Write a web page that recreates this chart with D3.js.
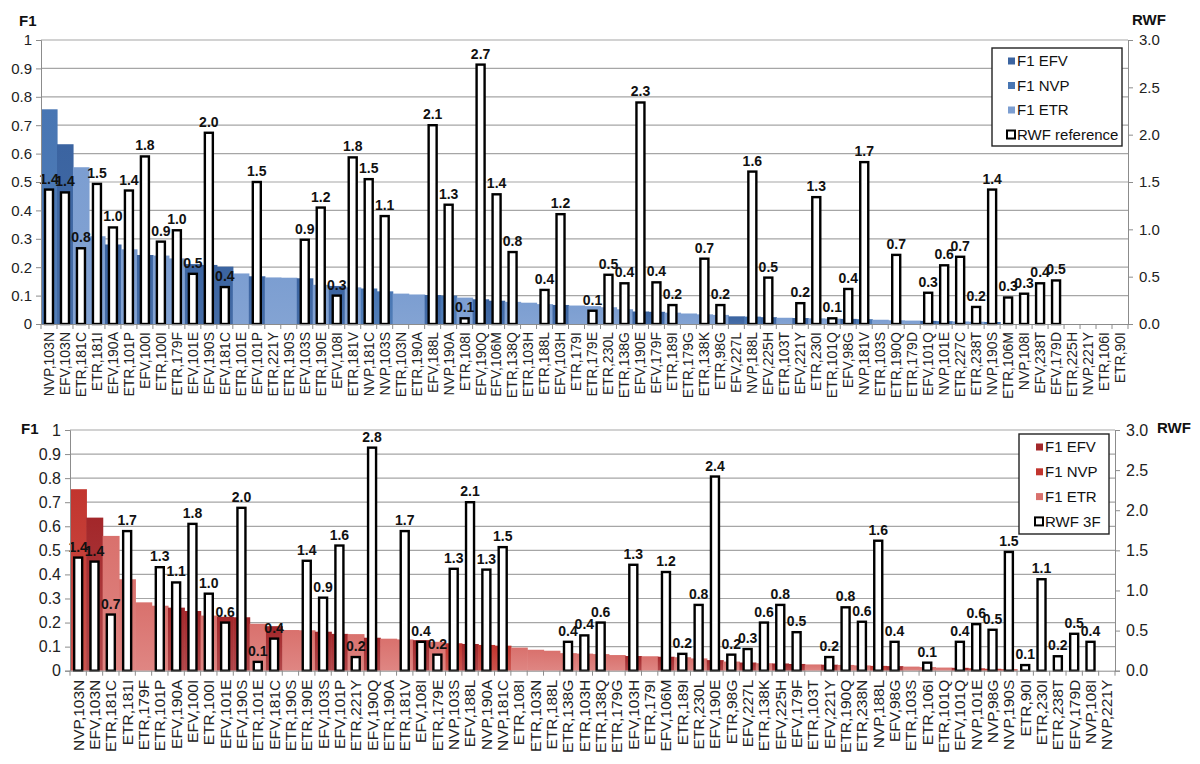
<!DOCTYPE html>
<html><head><meta charset="utf-8">
<script src="https://cdnjs.cloudflare.com/ajax/libs/d3/7.8.5/d3.min.js"></script>
<style>body{margin:0;background:#fff;}svg{display:block;font-family:"Liberation Sans",Arial,sans-serif;}</style>
</head><body>
<svg id="chart" width="1200" height="764"></svg>
<script>
// ---------- DATA ----------
const topCategories = ["NVP,103N","EFV,103N","ETR,181C","ETR,181I","EFV,190A","ETR,101P","EFV,100I","ETR,100I","ETR,179F","EFV,101E","EFV,190S","EFV,181C","ETR,101E","EFV,101P","ETR,221Y","ETR,190S","EFV,103S","ETR,190E","EFV,108I","ETR,181V","NVP,181C","NVP,103S","ETR,103N","ETR,190A","EFV,188L","NVP,190A","ETR,108I","EFV,190Q","EFV,106M","ETR,138Q","ETR,103H","ETR,188L","EFV,103H","ETR,179I","ETR,179E","ETR,230L","ETR,138G","EFV,190E","EFV,179F","ETR,189I","ETR,179G","ETR,138K","ETR,98G","EFV,227L","NVP,188L","EFV,225H","ETR,103T","EFV,221Y","ETR,230I","ETR,101Q","EFV,98G","NVP,181V","ETR,103S","ETR,190Q","ETR,179D","EFV,101Q","NVP,101E","ETR,227C","ETR,238T","NVP,190S","ETR,106M","NVP,108I","EFV,238T","EFV,179D","ETR,225H","NVP,221Y","ETR,106I","ETR,90I"];
const topF1 = [0.756,0.633,0.552,0.309,0.280,0.263,0.243,0.241,0.231,0.211,0.208,0.202,0.178,0.168,0.164,0.163,0.161,0.138,0.134,0.129,0.125,0.115,0.107,0.104,0.102,0.100,0.093,0.087,0.082,0.078,0.075,0.070,0.067,0.065,0.063,0.059,0.052,0.044,0.043,0.040,0.037,0.034,0.032,0.027,0.026,0.024,0.022,0.021,0.020,0.019,0.018,0.017,0.015,0.013,0.012,0.011,0.010,0.009,0.008,0.007,0,0,0,0,0,0,0,0];
const topRWF = [1.42,1.39,0.80,1.48,1.02,1.41,1.77,0.87,0.99,0.53,2.02,0.39,null,1.50,null,null,0.89,1.23,0.30,1.76,1.53,1.14,null,null,2.10,1.26,0.06,2.74,1.37,0.76,null,0.36,1.16,null,0.14,0.52,0.43,2.34,0.44,0.20,null,0.69,0.20,null,1.61,0.49,null,0.22,1.34,0.06,0.37,1.71,null,0.73,null,0.33,0.62,0.71,0.18,1.42,0.28,0.32,0.43,0.46,null,null,null,null];

const bottomCategories = ["NVP,103N","EFV,103N","ETR,181C","ETR,181I","ETR,179F","ETR,101P","EFV,190A","EFV,100I","ETR,100I","EFV,101E","EFV,190S","ETR,101E","EFV,181C","ETR,190S","ETR,190E","EFV,103S","EFV,101P","ETR,221Y","EFV,190Q","ETR,190A","ETR,181V","EFV,108I","ETR,179E","NVP,103S","EFV,188L","NVP,190A","NVP,181C","ETR,108I","ETR,103N","ETR,188L","ETR,138G","ETR,103H","ETR,138Q","ETR,179G","EFV,103H","ETR,179I","EFV,106M","ETR,189I","ETR,230L","EFV,190E","ETR,98G","EFV,227L","ETR,138K","EFV,225H","EFV,179F","ETR,103T","EFV,221Y","ETR,190Q","ETR,238N","NVP,188L","EFV,98G","ETR,103S","ETR,106I","ETR,101Q","EFV,101Q","NVP,101E","NVP,98G","NVP,190S","ETR,90I","ETR,230I","ETR,238T","EFV,179D","NVP,108I","NVP,221Y"];
const bottomF1 = [0.754,0.636,0.560,0.380,0.284,0.270,0.262,0.248,0.229,0.224,0.222,0.195,0.185,0.169,0.168,0.162,0.153,0.152,0.137,0.133,0.130,0.127,0.120,0.114,0.111,0.107,0.104,0.096,0.087,0.083,0.073,0.071,0.069,0.065,0.061,0.060,0.058,0.056,0.051,0.044,0.038,0.034,0.031,0.030,0.028,0.026,0.025,0.024,0.022,0.020,0.019,0.017,0.015,0.013,0.012,0.010,0.008,0.006,0,0,0,0,0,0];
const bottomRWF = [1.41,1.36,0.70,1.74,null,1.29,1.10,1.83,0.96,0.60,2.03,0.11,0.40,null,1.37,0.91,1.56,0.17,2.78,null,1.74,0.36,0.20,1.27,2.10,1.26,1.54,null,null,null,0.36,0.44,0.60,null,1.32,null,1.23,0.21,0.82,2.42,0.20,0.27,0.60,0.82,0.48,null,0.17,0.79,0.61,1.62,0.36,null,0.10,null,0.36,0.58,0.51,1.48,0.07,1.14,0.18,0.46,0.36,null];

const seriesKeys = ["EFV","NVP","ETR"];
const f1Ticks = [0,0.1,0.2,0.3,0.4,0.5,0.6,0.7,0.8,0.9,1];
const rwfTicks = [0,0.5,1,1.5,2,2.5,3];
const topLegend = ["F1 EFV","F1 NVP","F1 ETR","RWF reference"];
const bottomLegend = ["F1 EFV","F1 NVP","F1 ETR","RWF 3F"];
const blueColors = {EFV:"#3b64a1", NVP:"#4876b3", ETR:"#7c9ed1"};
const redColors = {EFV:"#a3272a", NVP:"#c2352e", ETR:"#d9716d"};

// ---------- DRAW ----------
const svg = d3.select("#chart");
const defs = svg.append("defs");

function drawPanel(cfg) {
  const g = svg.append("g");
  const x = d3.scaleBand().domain(cfg.categories).range([cfg.left, cfg.right]).padding(0);
  const y = d3.scaleLinear().domain([0,1]).range([cfg.bottom, cfg.top]);
  const y2 = d3.scaleLinear().domain([0,3]).range([cfg.bottom, cfg.top]);

  // gradients
  const fills = {};
  seriesKeys.forEach(k => {
    const id = cfg.id + "-" + k;
    const lg = defs.append("linearGradient").attr("id", id).attr("x1",0).attr("y1",0).attr("x2",0).attr("y2",1);
    lg.append("stop").attr("offset","0%").attr("stop-color", cfg.colors[k]);
    lg.append("stop").attr("offset","100%").attr("stop-color", d3.interpolateRgb(cfg.colors[k], "#ffffff")(cfg.fade));
    fills[k] = "url(#" + id + ")";
  });

  // gridlines
  g.append("g").selectAll("line").data(f1Ticks.filter(t => t > 0)).join("line")
    .attr("x1", cfg.left).attr("x2", cfg.right)
    .attr("y1", d => y(d)).attr("y2", d => y(d))
    .attr("stroke", "#a6a6a6").attr("stroke-width", 1.2);

  // F1 bars
  const f1data = cfg.categories.map((c,i) => ({c, v: cfg.f1[i], s: c.split(",")[0]}));
  g.append("g").selectAll("rect").data(f1data.filter(d => d.v > 0)).join("rect")
    .attr("x", d => x(d.c)).attr("width", x.bandwidth() + 0.6)
    .attr("y", d => y(d.v)).attr("height", d => y(0) - y(d.v))
    .attr("fill", d => fills[d.s]);

  // RWF bars
  const bw = cfg.rwfWidth;
  const rdata = cfg.categories.map((c,i) => ({c, v: cfg.rwf[i]})).filter(d => d.v != null);
  g.append("g").selectAll("rect").data(rdata).join("rect")
    .attr("x", d => x(d.c) + x.bandwidth()/2 - bw/2).attr("width", bw)
    .attr("y", d => y2(d.v)).attr("height", d => y2(0) - y2(d.v))
    .attr("fill", "#fff").attr("stroke", "#000").attr("stroke-width", 2.4);
  g.append("g").selectAll("text").data(rdata).join("text")
    .attr("x", d => x(d.c) + x.bandwidth()/2).attr("y", d => y2(d.v) - 6)
    .attr("text-anchor", "middle").attr("font-weight", "bold").attr("font-size", 14).attr("fill", "#111")
    .text(d => d3.format(".1f")(d.v));

  // left axis
  const la = g.append("g").attr("transform", `translate(${cfg.left},0)`)
    .call(d3.axisLeft(y).tickValues(f1Ticks).tickFormat(d3.format("~g")).tickSize(5).tickPadding(4));
  la.select(".domain").attr("stroke", "#8c8c8c");
  la.selectAll(".tick line").attr("stroke", "#8c8c8c");
  la.selectAll("text").attr("font-size", cfg.tickFont).attr("fill", "#222").attr("font-family", "Liberation Sans, Arial, sans-serif");

  // right axis
  const ra = g.append("g").attr("transform", `translate(${cfg.right},0)`)
    .call(d3.axisRight(y2).tickValues(rwfTicks).tickFormat(d3.format(".1f")).tickSize(5).tickPadding(cfg.rightPad));
  ra.select(".domain").attr("stroke", "#8c8c8c");
  ra.selectAll(".tick line").attr("stroke", "#8c8c8c");
  ra.selectAll("text").attr("font-size", cfg.tickFont).attr("fill", "#222").attr("font-family", "Liberation Sans, Arial, sans-serif");

  // bottom axis
  const ba = g.append("g").attr("transform", `translate(0,${cfg.bottom})`)
    .call(d3.axisBottom(x).tickSize(0).tickPadding(0));
  ba.select(".domain").attr("stroke", "#8c8c8c");
  ba.selectAll(".tick text")
    .attr("transform", `rotate(-90)`)
    .attr("x", -cfg.labelOffset).attr("y", 0).attr("dy", "0.35em")
    .attr("text-anchor", "end")
    .attr("font-size", cfg.catFont).attr("fill", "#222").attr("font-family", "Liberation Sans, Arial, sans-serif");
  // category separators
  g.append("g").selectAll("line").data(cfg.categories.concat([null])).join("line")
    .attr("x1", (d,i) => cfg.left + i * x.step()).attr("x2", (d,i) => cfg.left + i * x.step())
    .attr("y1", cfg.bottom).attr("y2", cfg.bottom + 5).attr("stroke", "#8c8c8c");

  // axis titles
  g.append("text").attr("x", cfg.f1Title[0]).attr("y", cfg.f1Title[1]).attr("font-weight", "bold").attr("font-size", 15).attr("fill", "#111").text("F1");
  g.append("text").attr("x", cfg.rwfTitle[0]).attr("y", cfg.rwfTitle[1]).attr("font-weight", "bold").attr("font-size", 15).attr("fill", "#111").text("RWF");

  // legend
  const L = cfg.legend;
  const lg = g.append("g");
  lg.append("rect").attr("x", L.x).attr("y", L.y).attr("width", L.w).attr("height", L.h)
    .attr("fill", "#fff").attr("stroke", "#222").attr("stroke-width", 1.4);
  cfg.legendLabels.forEach((lab, i) => {
    const cy = L.y + L.first + i * L.gap;
    if (i < 3) {
      lg.append("rect").attr("x", L.mx).attr("y", cy - 3.5).attr("width", 7).attr("height", 7).attr("fill", cfg.colors[seriesKeys[i]]);
    } else {
      lg.append("rect").attr("x", L.mx - 1).attr("y", cy - 4).attr("width", 8).attr("height", 8).attr("fill", "#fff").attr("stroke", "#000").attr("stroke-width", 2);
    }
    lg.append("text").attr("x", L.mx + 9).attr("y", cy).attr("dy", "0.35em").attr("font-size", 15).attr("fill", "#111").text(lab);
  });
}

drawPanel({
  id: "top", categories: topCategories, f1: topF1, rwf: topRWF, colors: blueColors, fade: 0.05,
  left: 41, right: 1128, top: 40, bottom: 324, rwfWidth: 8, tickFont: 15, catFont: 14, labelOffset: 8, rightPad: 6,
  f1Title: [19, 26], rwfTitle: [1132, 25],
  legend: {x: 992, y: 48, w: 130, h: 98, first: 13, gap: 24.5, mx: 1008},
  legendLabels: topLegend
});

drawPanel({
  id: "bot", categories: bottomCategories, f1: bottomF1, rwf: bottomRWF, colors: redColors, fade: 0.15,
  left: 70, right: 1115, top: 430, bottom: 670.7, rwfWidth: 8, tickFont: 16, catFont: 15.5, labelOffset: 9, rightPad: 6,
  f1Title: [21, 434], rwfTitle: [1157, 433],
  legend: {x: 1019, y: 434, w: 90, h: 100, first: 13, gap: 24.8, mx: 1036},
  legendLabels: bottomLegend
});
</script>
</body></html>
